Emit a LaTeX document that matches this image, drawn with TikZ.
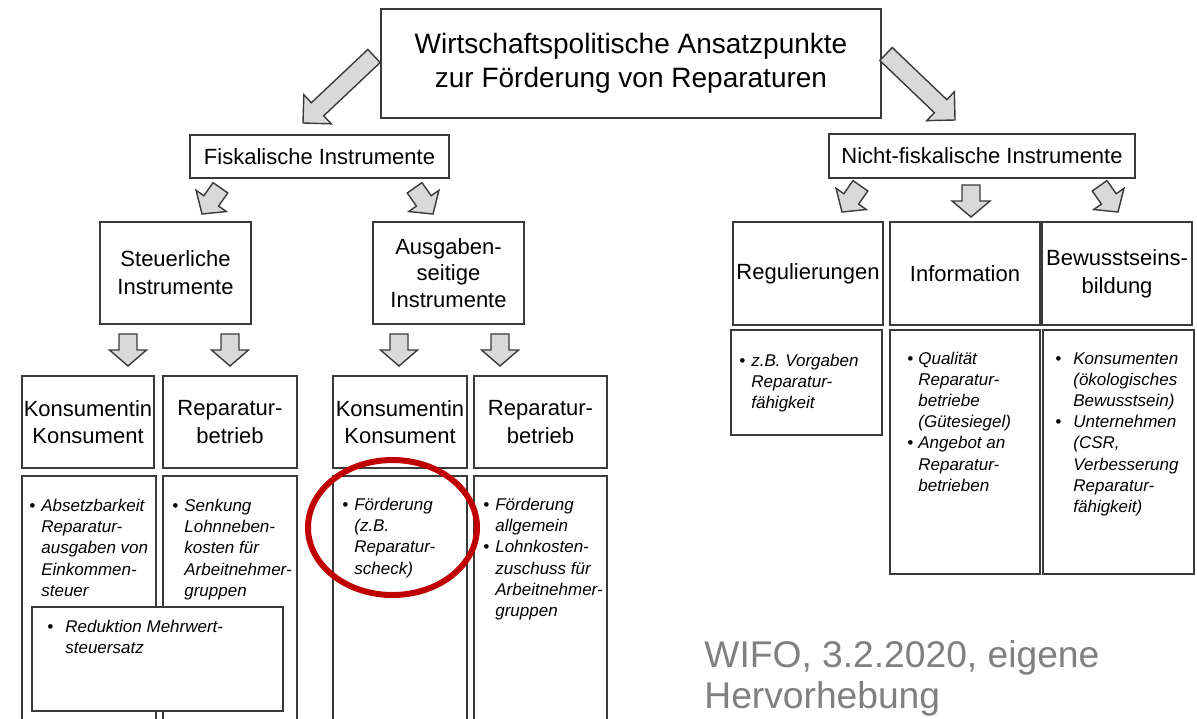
\documentclass[tikz,border=0pt]{standalone}
\usepackage{fontspec}
\setmainfont{Liberation Sans}
\usetikzlibrary{calc,shapes.geometric}
\definecolor{boxline}{HTML}{3A3A3A}
\definecolor{arrowfill}{HTML}{D9D9D9}
\definecolor{hilite}{HTML}{C00000}
\definecolor{srcgray}{HTML}{808080}
\tikzset{
  box/.style={draw=boxline, line width=0.75pt, fill=white, inner sep=0pt, align=center,
    font=\fontsize{11}{14}\selectfont},
  blk/.style={draw=boxline, line width=0.7pt, fill=arrowfill, line join=miter},
  listtxt/.style={anchor=base west, inner sep=0pt, font=\fontsize{8.5}{10.6}\selectfont\itshape},
}
\newcommand\blockarrow[4]{%
  \coordinate (ba-h) at ($(#2)!#3!(#1)$);
  \draw[blk] ($(#1)!4.5pt!90:(#2)$) -- ($(ba-h)!4.5pt!90:(#2)$) -- ($(ba-h)!#4!90:(#2)$) -- (#2)
    -- ($(ba-h)!#4!-90:(#2)$) -- ($(ba-h)!4.5pt!-90:(#2)$) -- ($(#1)!4.5pt!-90:(#2)$) -- cycle;
}
\begin{document}
\begin{tikzpicture}[x=0.5pt,y=-0.5pt]
\useasboundingbox[fill=white] (0,0) rectangle (1197,718);

% top level
\node[box, minimum width=250pt, minimum height=54.5pt, font=\fontsize{14}{17}\selectfont] (title) at (631,63.5)
  {Wirtschaftspolitische Ansatzpunkte\\zur Förderung von Reparaturen};
\node[box, minimum width=129.5pt, minimum height=21.5pt] (fisk) at (319.5,156.5) {Fiskalische Instrumente};
\node[box, minimum width=153pt, minimum height=22pt] (nfisk) at (982,156) {Nicht-fiskalische Instrumente};

% second level
\node[box, minimum width=75.5pt, minimum height=51pt] (steuer) at (175.5,273) {Steuerliche\\Instrumente};
\node[box, minimum width=75.5pt, minimum height=51pt, font=\fontsize{11}{13.4}\selectfont] (ausg) at (448.5,273) {Ausgaben-\\seitige\\Instrumente};
\node[box, minimum width=75pt, minimum height=51.5pt] (reg) at (808,273.5) {Regulierungen};
\node[box, minimum width=75pt, minimum height=51.5pt] (info) at (965,273.5) {Information};
\node[box, minimum width=75pt, minimum height=51.5pt] (bew) at (1117,273.5) {Bewusstseins-\\bildung};

% third level
\node[box, minimum width=66pt, minimum height=46pt, font=\fontsize{11}{13.6}\selectfont] (kons1) at (88,422) {Konsumentin\\Konsument};
\node[box, minimum width=67pt, minimum height=46pt, font=\fontsize{11}{13.6}\selectfont] (rep1) at (230,422) {Reparatur-\\betrieb};
\node[box, minimum width=67pt, minimum height=46pt, font=\fontsize{11}{13.6}\selectfont] (kons2) at (400,422) {Konsumentin\\Konsument};
\node[box, minimum width=66.5pt, minimum height=46pt, font=\fontsize{11}{13.6}\selectfont] (rep2) at (540.5,422) {Reparatur-\\betrieb};

% detail boxes
\node[box, minimum width=67pt, minimum height=127pt] (l1) at (89,603) {};
\node[box, minimum width=67pt, minimum height=127pt] (l2) at (230,603) {};
\node[box, minimum width=67pt, minimum height=127pt] (l3) at (400,603) {};
\node[box, minimum width=66.5pt, minimum height=127pt] (l4) at (540.5,603) {};
\node[box, minimum width=75.5pt, minimum height=52.5pt] (regl) at (806.5,382.5) {};
\node[box, minimum width=75pt, minimum height=122pt] (infol) at (965,452) {};
\node[box, minimum width=75.5pt, minimum height=122pt] (bewl) at (1118.5,452) {};

\node[listtxt] (t1) at (29,511.5) {\begin{tabular}[t]{@{}l@{\hspace{3pt}}l@{}}\textbullet & Absetzbarkeit\\ & Reparatur-\\ & ausgaben von\\ & Einkommen-\\ & steuer\end{tabular}};
\node[listtxt] (t2) at (172,511.5) {\begin{tabular}[t]{@{}l@{\hspace{3pt}}l@{}}\textbullet & Senkung\\ & Lohnneben-\\ & kosten für\\ & Arbeitnehmer-\\ & gruppen\end{tabular}};
\node[listtxt] (t3) at (342,510.5) {\begin{tabular}[t]{@{}l@{\hspace{3pt}}l@{}}\textbullet & Förderung\\ & (z.B.\\ & Reparatur-\\ & scheck)\end{tabular}};
\node[listtxt] (t4) at (483,510.5) {\begin{tabular}[t]{@{}l@{\hspace{3pt}}l@{}}\textbullet & Förderung\\ & allgemein\\ \textbullet & Lohnkosten-\\ & zuschuss für\\ & Arbeitnehmer-\\ & gruppen\end{tabular}};

\node[box, minimum width=125.5pt, minimum height=52pt] (red) at (157.5,659) {};
\node[listtxt] (t5) at (47,632) {\begin{tabular}[t]{@{}l@{\hspace{6pt}}l@{}}\textbullet & Reduktion Mehrwert-\\ & steuersatz\end{tabular}};

\node[listtxt] (t6) at (739,366.5) {\begin{tabular}[t]{@{}l@{\hspace{3pt}}l@{}}\textbullet & z.B. Vorgaben\\ & Reparatur-\\ & fähigkeit\end{tabular}};
\node[listtxt] (t7) at (907,364) {\begin{tabular}[t]{@{}l@{\hspace{2.5pt}}l@{}}\textbullet & Qualität\\ & Reparatur-\\ & betriebe\\ & (Gütesiegel)\\ \textbullet & Angebot an\\ & Reparatur-\\ & betrieben\end{tabular}};
\node[listtxt] (t8) at (1055,364) {\begin{tabular}[t]{@{}l@{\hspace{6pt}}l@{}}\textbullet & Konsumenten\\ & (ökologisches\\ & Bewusstsein)\\ \textbullet & Unternehmen\\ & (CSR,\\ & Verbesserung\\ & Reparatur-\\ & fähigkeit)\end{tabular}};

% block arrows
\coordinate (b1s) at (374,56);   \coordinate (b1e) at (303,123);
\coordinate (b2s) at (886,54);   \coordinate (b2e) at (955,120);
\blockarrow{b1s}{b1e}{10pt}{10pt}
\blockarrow{b2s}{b2e}{10pt}{10pt}

\coordinate (k1s) at (220.4,187.8); \coordinate (k1e) at (202,214);
\coordinate (k2s) at (414.6,187.8); \coordinate (k2e) at (433,214);
\coordinate (k3s) at (860.4,185.8); \coordinate (k3e) at (842,212);
\coordinate (k4s) at (971,185);     \coordinate (k4e) at (971,217);
\coordinate (k5s) at (1099.6,185.8);\coordinate (k5e) at (1118,212);
\blockarrow{k1s}{k1e}{8pt}{9.25pt}
\blockarrow{k2s}{k2e}{8pt}{9.25pt}
\blockarrow{k3s}{k3e}{8pt}{9.25pt}
\blockarrow{k4s}{k4e}{8pt}{9.5pt}
\blockarrow{k5s}{k5e}{8pt}{9.25pt}

\coordinate (d1s) at (128,334); \coordinate (d1e) at (128,366);
\coordinate (d2s) at (230,334); \coordinate (d2e) at (230,366);
\coordinate (d3s) at (399,334); \coordinate (d3e) at (399,366);
\coordinate (d4s) at (500,334); \coordinate (d4e) at (500,366);
\blockarrow{d1s}{d1e}{8pt}{9.25pt}
\blockarrow{d2s}{d2e}{8pt}{9.25pt}
\blockarrow{d3s}{d3e}{8pt}{9.25pt}
\blockarrow{d4s}{d4e}{8pt}{9.25pt}

% highlight
\node[draw=hilite, line width=3pt, ellipse, minimum width=84.5pt, minimum height=67.5pt, inner sep=0pt] (hl) at (392.5,527.5) {};

% source
\node[anchor=base west, inner sep=0pt, text=srcgray, font=\fontsize{18.6}{20.5}\selectfont] (src) at (704,667)
  {\begin{tabular}[t]{@{}l@{}}WIFO, 3.2.2020, eigene\\Hervorhebung\end{tabular}};
\end{tikzpicture}
\end{document}
